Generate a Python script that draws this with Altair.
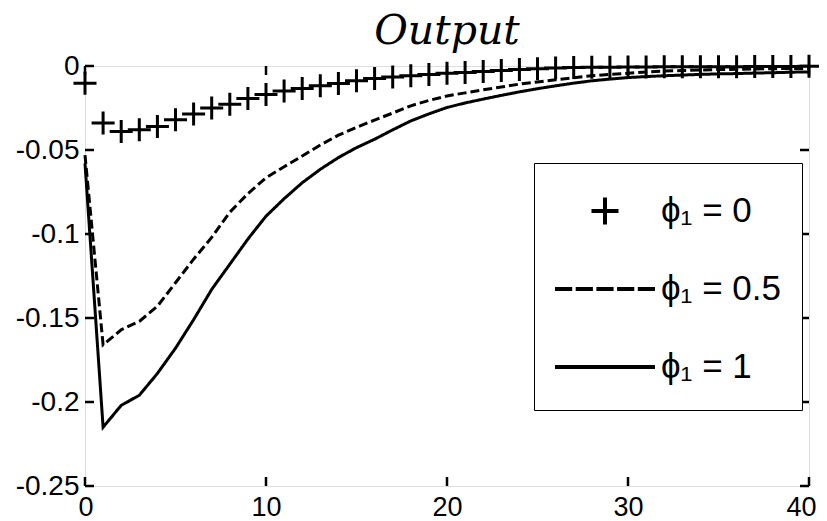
import altair as alt
import pandas as pd

# ---------------- data ----------------
periods = list(range(41))
labels = ["ϕ₁ = 0", "ϕ₁ = 0.5", "ϕ₁ = 1"]

phi_0 = [-0.0102, -0.034, -0.039, -0.038, -0.036, -0.032, -0.0285, -0.025, -0.0227, -0.0193,
         -0.017, -0.0149, -0.0134, -0.0117, -0.0104, -0.0088, -0.0075, -0.0066, -0.0058, -0.005,
         -0.0043, -0.0038, -0.0033, -0.0027, -0.0021, -0.0016, -0.0012, -0.0009, -0.0008, -0.0007,
         -0.0006, -0.0006, -0.0005, -0.0005, -0.0004, -0.0004, -0.0004, -0.0003, -0.0003, -0.0003,
         -0.0002]
phi_05 = [-0.053, -0.166, -0.157, -0.152, -0.143, -0.129, -0.115, -0.102, -0.087, -0.076,
          -0.0665, -0.06, -0.0536, -0.047, -0.0412, -0.0365, -0.0322, -0.028, -0.0237, -0.0205,
          -0.0178, -0.016, -0.0142, -0.0125, -0.0108, -0.0095, -0.0082, -0.007, -0.0058, -0.005,
          -0.0043, -0.0036, -0.003, -0.0027, -0.0024, -0.0021, -0.002, -0.0018, -0.0016, -0.0015,
          -0.0014]
phi_1 = [-0.058, -0.215, -0.202, -0.196, -0.183, -0.168, -0.151, -0.133, -0.118, -0.103,
         -0.0894, -0.079, -0.0695, -0.0615, -0.0545, -0.0486, -0.0436, -0.038, -0.0327, -0.0285,
         -0.0247, -0.022, -0.0197, -0.0175, -0.0154, -0.0135, -0.0118, -0.0102, -0.0088, -0.0078,
         -0.0069, -0.0063, -0.0058, -0.0054, -0.005, -0.0047, -0.0045, -0.0042, -0.004, -0.0037,
         -0.0035]

x_ticks = [0, 10, 20, 30, 40]
y_ticks = [0, -0.05, -0.1, -0.15, -0.2, -0.25]

# ---------------- tables ----------------
df_pts = pd.DataFrame({"t": periods, "v": phi_0, "s": labels[0]})
df_lines = pd.DataFrame({
    "t": periods + periods,
    "v": phi_05 + phi_1,
    "s": [labels[1]] * len(periods) + [labels[2]] * len(periods),
})
df_xt = pd.DataFrame({"t": x_ticks})
df_yt = pd.DataFrame({"v": y_ticks})

W, H = 724, 420
TL = 9
FONT = "Liberation Sans"

# legend / marker glyphs (all share the same vertical extent)
PAD_V = "M0,-0.54L0,-0.54M0,0.54L0,0.54"
CROSS = "M-0.54,0L0.54,0M0,-0.54L0,0.54"
SOLID = "M-2,0L2,0" + PAD_V
DASHED = ("M-2,0L-1.312,0M-1.172,0L-0.484,0M-0.344,0L0.344,0M0.484,0L1.172,0M1.312,0L2,0"
          + PAD_V)

xs = alt.Scale(domain=[0, 40], nice=False, zero=False)
ys = alt.Scale(domain=[-0.25, 0], nice=False, zero=False)

xaxis = alt.Axis(values=x_ticks, ticks=False, tickSize=0, domain=False, grid=False,
                 labelFontSize=27, labelFont=FONT, labelColor="black", labelPadding=8,
                 labelFlush=True, labelFlushOffset=7, labelOverlap=False, title=None)
yaxis = alt.Axis(values=y_ticks, ticks=False, tickSize=0, domain=False, grid=False,
                 labelFontSize=28, labelFont=FONT, labelColor="black", labelPadding=6,
                 labelFlush=False, labelOverlap=False, title=None,
                 labelExpr="datum.value == 0 ? '0' : '-' + format(abs(datum.value), '~g')")

X = alt.X("t:Q", scale=xs, axis=xaxis)
Y = alt.Y("v:Q", scale=ys, axis=yaxis)

points = alt.Chart(df_pts).mark_point(
    filled=False, color="black", strokeWidth=3, size=1815, opacity=1
).encode(
    x=X, y=Y,
    shape=alt.Shape(
        "s:N",
        scale=alt.Scale(domain=labels, range=[CROSS, DASHED, SOLID]),
        legend=alt.Legend(
            orient="none", legendX=449, legendY=97, title=None,
            padding=21, strokeColor="black", fillColor="white",
            symbolSize=2500, symbolStrokeWidth=4, symbolStrokeColor="black",
            symbolFillColor="transparent", rowPadding=29, labelOffset=29,
            labelFontSize=35, labelFont=FONT, labelColor="black", labelLimit=400,
            symbolOffset=23,
        ),
    ),
)

lines = alt.Chart(df_lines).mark_line(color="black", strokeWidth=3).encode(
    x=X, y=Y,
    strokeDash=alt.StrokeDash(
        "s:N",
        scale=alt.Scale(domain=labels[1:], range=[[9, 4], [1, 0]]),
        legend=None,
    ),
)

tick_style = dict(color="black", strokeWidth=2.5)
bottom_ticks = alt.Chart(df_xt).mark_rule(**tick_style).encode(
    x=X, y=alt.value(H), y2=alt.value(H - TL))
top_ticks = alt.Chart(df_xt).mark_rule(**tick_style).encode(
    x=X, y=alt.value(0), y2=alt.value(TL))
left_ticks = alt.Chart(df_yt).mark_rule(**tick_style).encode(
    y=Y, x=alt.value(0), x2=alt.value(TL))
right_ticks = alt.Chart(df_yt).mark_rule(**tick_style).encode(
    y=Y, x=alt.value(W - TL), x2=alt.value(W))

chart = alt.layer(
    lines, points, bottom_ticks, top_ticks, left_ticks, right_ticks
).properties(
    width=W, height=H,
    autosize="none",
    padding={"left": 77, "top": 58, "right": 10, "bottom": 34},
    title=alt.Title("Output", font="DejaVu Serif", fontStyle="italic", fontWeight="normal",
                    fontSize=41, color="black", anchor="middle", offset=-4),
).configure_view(
    stroke="black", strokeWidth=3
).configure_legend(
    strokeWidth=3
).configure(background="white")

chart.save("out.html", embed_options={"renderer": "svg", "actions": False})
